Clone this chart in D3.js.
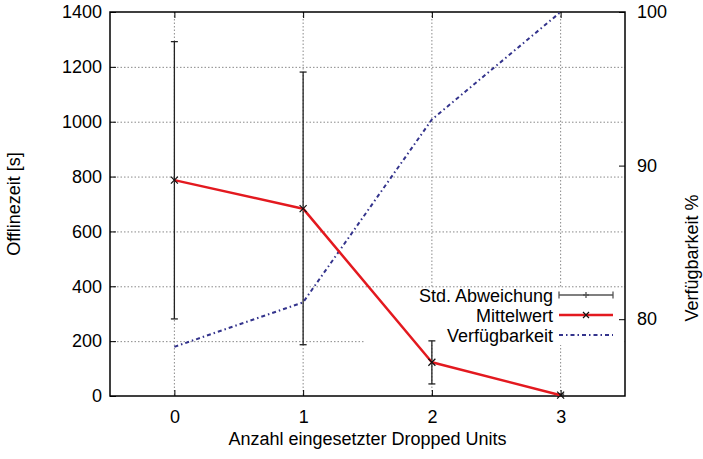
<!DOCTYPE html>
<html>
<head>
<meta charset="utf-8">
<script src="https://cdn.jsdelivr.net/npm/d3@7"></script>
<style>
  body { margin: 0; background: #fff; }
  svg { display: block; font-family: "Liberation Sans", Arial, sans-serif; }
</style>
</head>
<body>
<svg id="chart"></svg>
<script>
// Werte
const units = [0, 1, 2, 3];
const mittelwert = [787, 683, 123, 3];
const stdLow = [281, 187, 44, 0];
const stdHigh = [1292, 1181, 201, 7];
const verfuegbarkeit = [78.2, 81.1, 93.0, 100];

const yTicks = [0, 200, 400, 600, 800, 1000, 1200, 1400];
const y2Ticks = [80, 90, 100];
const legendLabels = ["Std. Abweichung", "Mittelwert", "Verfügbarkeit"];

const width = 703;
const height = 459;
const marginTop = 12;
const marginRight = 78;
const marginBottom = 63;
const marginLeft = 110;
const fontSize = 18;

const svg = d3.select("#chart")
    .attr("width", width)
    .attr("height", height)
    .attr("viewBox", [0, 0, width, height]);

const x = d3.scaleLinear()
    .domain([-0.5, 3.5])
    .range([marginLeft, width - marginRight]);

const y = d3.scaleLinear()
    .domain([0, 1400])
    .range([height - marginBottom, marginTop]);

const y2 = d3.scaleLinear()
    .domain([75, 100])
    .range([height - marginBottom, marginTop]);

const x0 = marginLeft, x1 = width - marginRight;
const yb = height - marginBottom, yt = marginTop;

// Gitter (grau, gepunktet)
const grid = svg.append("g")
    .attr("stroke", "#8a8a8a")
    .attr("stroke-width", 1)
    .attr("stroke-dasharray", "1.5,2");
grid.selectAll(".gh")
    .data(yTicks.slice(1, -1))
    .join("line")
    .attr("x1", x0).attr("x2", x1)
    .attr("y1", d => y(d) + 0.5).attr("y2", d => y(d) + 0.5);
grid.selectAll(".gv")
    .data(units)
    .join("line")
    .attr("x1", d => x(d)).attr("x2", d => x(d))
    .attr("y1", yt).attr("y2", yb);

// Legendenbereich: kein Gitter dahinter
const keyBox = { left: 365, right: x1 - 1, top: 288, bottom: 345 };
svg.append("rect")
    .attr("x", keyBox.left)
    .attr("y", keyBox.top)
    .attr("width", keyBox.right - keyBox.left)
    .attr("height", keyBox.bottom - keyBox.top)
    .attr("fill", "#fff");

// Achsen (Ticks nach innen)
const styleText = g => g.selectAll("text")
    .attr("font-size", fontSize).attr("font-family", null).attr("fill", "#000");

svg.append("g")
    .attr("transform", `translate(${x0},0)`)
    .call(d3.axisLeft(y).tickValues(yTicks).tickFormat(d3.format("d")).tickSize(-6).tickPadding(8))
    .call(g => g.select(".domain").remove())
    .call(styleText);

svg.append("g")
    .attr("transform", `translate(${x1},0)`)
    .call(d3.axisRight(y2).tickValues(y2Ticks).tickFormat(d3.format("d")).tickSize(-6).tickPadding(12))
    .call(g => g.select(".domain").remove())
    .call(styleText);

svg.append("g")
    .attr("transform", `translate(0,${yb})`)
    .call(d3.axisBottom(x).tickValues(units).tickFormat(d3.format("d")).tickSize(-6).tickPadding(14))
    .call(g => g.select(".domain").remove())
    .call(styleText);

svg.append("g")
    .attr("transform", `translate(0,${yt})`)
    .call(d3.axisTop(x).tickValues(units).tickFormat("").tickSize(-6))
    .call(g => g.select(".domain").remove());

// Rahmen
svg.append("rect")
    .attr("x", x0).attr("y", yt)
    .attr("width", x1 - x0).attr("height", yb - yt)
    .attr("fill", "none")
    .attr("stroke", "#000")
    .attr("stroke-width", 1.5);

// Fehlerbalken
const err = svg.append("g")
    .attr("stroke", "#222")
    .attr("stroke-width", 1.3);
units.forEach((u, i) => {
    err.append("line")
        .attr("x1", x(u)).attr("x2", x(u))
        .attr("y1", y(stdLow[i])).attr("y2", y(stdHigh[i]));
    [stdLow[i], stdHigh[i]].forEach(v => {
        err.append("line")
            .attr("x1", x(u) - 3.5).attr("x2", x(u) + 3.5)
            .attr("y1", y(v)).attr("y2", y(v));
    });
});

// Verfügbarkeit (rechte Achse)
svg.append("path")
    .datum(units.map((u, i) => [x(u), y2(verfuegbarkeit[i])]))
    .attr("fill", "none")
    .attr("stroke", "#33338c")
    .attr("stroke-width", 2)
    .attr("stroke-dasharray", "4,3,1.5,3")
    .attr("d", d3.line());

// Mittelwert
svg.append("path")
    .datum(units.map((u, i) => [x(u), y(mittelwert[i])]))
    .attr("fill", "none")
    .attr("stroke", "#e3191f")
    .attr("stroke-width", 2.5)
    .attr("stroke-linejoin", "round")
    .attr("d", d3.line());

function cross(g, cx, cy, r) {
    g.append("path")
        .attr("d", `M${cx - r},${cy - r}L${cx + r},${cy + r}M${cx - r},${cy + r}L${cx + r},${cy - r}`)
        .attr("stroke", "#111")
        .attr("stroke-width", 1.2)
        .attr("fill", "none");
}
const marks = svg.append("g");
units.forEach((u, i) => cross(marks, x(u), y(mittelwert[i]), 3.5));

// Legende
const legendX = 553;
const sampleX0 = 559, sampleX1 = 613;
const rowY = [295, 315, 335];
const legend = svg.append("g");
legend.selectAll("text")
    .data(legendLabels)
    .join("text")
    .attr("x", legendX)
    .attr("y", (d, i) => rowY[i] + 6.5)
    .attr("text-anchor", "end")
    .attr("font-size", fontSize)
    .text(d => d);

const sMid = (sampleX0 + sampleX1) / 2;
const s1 = legend.append("g").attr("stroke", "#555").attr("stroke-width", 1.3);
s1.append("line").attr("x1", sampleX0).attr("x2", sampleX1).attr("y1", rowY[0]).attr("y2", rowY[0]);
[sampleX0, sampleX1].forEach(sx => s1.append("line")
    .attr("x1", sx).attr("x2", sx).attr("y1", rowY[0] - 3.5).attr("y2", rowY[0] + 3.5));
s1.append("path").attr("d", `M${sMid - 3},${rowY[0]}L${sMid + 3},${rowY[0]}M${sMid},${rowY[0] - 3}L${sMid},${rowY[0] + 3}`);

legend.append("line")
    .attr("x1", sampleX0).attr("x2", sampleX1)
    .attr("y1", rowY[1]).attr("y2", rowY[1])
    .attr("stroke", "#e3191f").attr("stroke-width", 2.5);
cross(legend, sMid, rowY[1], 3);

legend.append("line")
    .attr("x1", sampleX0).attr("x2", sampleX1)
    .attr("y1", rowY[2]).attr("y2", rowY[2])
    .attr("stroke", "#33338c").attr("stroke-width", 2)
    .attr("stroke-dasharray", "4,3,1.5,3");

// Achsentitel
svg.append("text")
    .attr("x", (x0 + x1) / 2)
    .attr("y", 445)
    .attr("text-anchor", "middle")
    .attr("font-size", fontSize)
    .text("Anzahl eingesetzter Dropped Units");

svg.append("text")
    .attr("transform", `translate(20,${(yt + yb) / 2}) rotate(-90)`)
    .attr("text-anchor", "middle")
    .attr("font-size", fontSize)
    .text("Offlinezeit [s]");

svg.append("text")
    .attr("transform", `translate(698,258) rotate(-90)`)
    .attr("text-anchor", "middle")
    .attr("font-size", fontSize)
    .text("Verfügbarkeit %");
</script>
</body>
</html>
